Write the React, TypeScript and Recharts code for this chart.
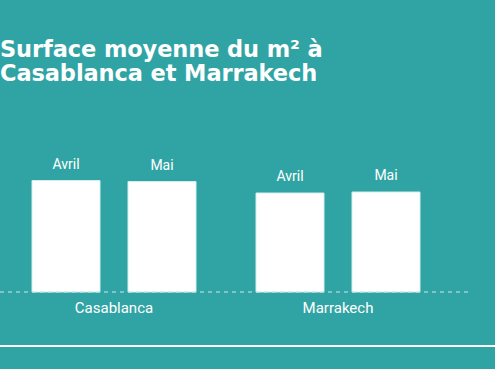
import { Bar, BarChart, LabelList, XAxis, YAxis } from 'recharts';

// Valeurs (axe masqué, échelle relative)
const cities = ['Casablanca', 'Marrakech'];
const avril = [111.5, 99];
const mai = [110.5, 100];
const seriesNames = ['Avril', 'Mai'];

const BG = '#30a4a4';
const FONT = 'Roboto, "Liberation Sans", Arial, sans-serif';

const data = cities.map((city, i) => ({ city, avril: avril[i], mai: mai[i] }));

function seriesLabel(name: string) {
  return (props: any) => {
    const { x, y, width } = props;
    return (
      <text
        x={Number(x) + Number(width) / 2}
        y={Number(y) - 12}
        fill="#ffffff"
        fontSize={14}
        fontFamily={FONT}
        textAnchor="middle"
      >
        {name}
      </text>
    );
  };
}

export default function App() {
  return (
    <div
      style={{
        position: 'absolute',
        left: 0,
        top: 0,
        width: 495,
        height: 369,
        background: BG,
        overflow: 'hidden',
      }}
    >
      <div
        style={{
          position: 'absolute',
          left: 0,
          top: 37,
          color: '#ffffff',
          fontFamily: '"DejaVu Sans", sans-serif',
          fontWeight: 700,
          fontSize: 22.5,
          lineHeight: '24px',
          letterSpacing: -0.1,
        }}
      >
        Surface moyenne du m² à
        <br />
        Casablanca et Marrakech
      </div>

      <div style={{ position: 'absolute', left: 0, top: 0 }}>
        <BarChart
          width={495}
          height={369}
          data={data}
          margin={{ top: 142, right: 24, left: 0, bottom: 47 }}
          barCategoryGap={30}
          barGap={28}
        >
          <XAxis
            dataKey="city"
            height={30}
            padding={{ left: 2, right: 21 }}
            tickLine={false}
            tickMargin={4}
            axisLine={{ stroke: '#c9e9e9', strokeDasharray: '4 4', strokeWidth: 1 }}
            tick={{ fill: '#ffffff', fontSize: 15, fontFamily: FONT }}
            interval={0}
          />
          <YAxis hide domain={[0, 150]} />
          <Bar
            dataKey="avril"
            name={seriesNames[0]}
            fill="#ffffff"
            stroke="#d2eeee"
            strokeWidth={1}
            isAnimationActive={false}
          >
            <LabelList dataKey="avril" content={seriesLabel(seriesNames[0])} />
          </Bar>
          <Bar
            dataKey="mai"
            name={seriesNames[1]}
            fill="#ffffff"
            stroke="#d2eeee"
            strokeWidth={1}
            isAnimationActive={false}
          >
            <LabelList dataKey="mai" content={seriesLabel(seriesNames[1])} />
          </Bar>
        </BarChart>
      </div>

      <div
        style={{
          position: 'absolute',
          left: 0,
          top: 345,
          width: 495,
          height: 2,
          background: '#ffffff',
        }}
      />
    </div>
  );
}
